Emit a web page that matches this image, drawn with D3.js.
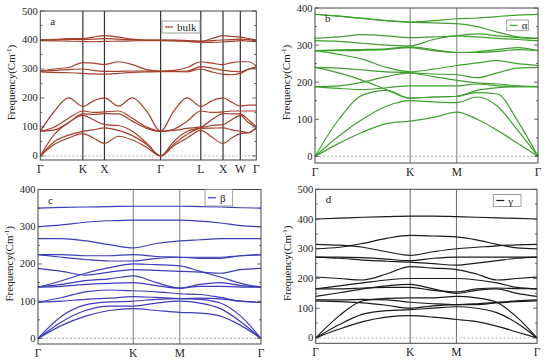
<!DOCTYPE html>
<html lang="en">
<head>
<meta charset="UTF-8">
<script src="https://d3js.org/d3.v7.min.js"></script>
<title>Phonon dispersion</title>
<style>
    body { margin: 0; background: #fff; }
    text { font-family: "Liberation Serif", "DejaVu Serif", serif; fill: #222; }
</style>
</head>
<body>
<svg id="chart" width="550" height="363"></svg>
<script>
    /*------------------- data -------------------*/
    // panel a : bulk
    const aLabels = ["Γ", "K", "X", "Γ", "L", "X", "W", "Γ"];
    const aTicks = [0, 0.197, 0.297, 0.557, 0.743, 0.846, 0.926, 1];
    const aGrid = [0, 0.066, 0.131, 0.197, 0.246, 0.297, 0.362, 0.426, 0.492, 0.557,
                   0.618, 0.68, 0.743, 0.794, 0.846, 0.886, 0.926, 0.963, 1];
    const aBands = [
        [0, 40, 62, 77, 62, 43, 68, 55, 30, 0, 35, 62, 88, 65, 43, 62, 77, 80, 95],
        [0, 50, 72, 85, 90, 97, 88, 70, 40, 0, 40, 75, 95, 96, 97, 90, 85, 80, 98],
        [0, 75, 115, 140, 125, 108, 105, 85, 45, 0, 50, 85, 97, 105, 108, 125, 140, 115, 100],
        [85, 90, 115, 145, 143, 146, 145, 120, 95, 85, 88, 95, 100, 125, 146, 145, 145, 125, 100],
        [85, 100, 130, 155, 150, 152, 155, 130, 100, 85, 92, 120, 155, 150, 152, 155, 155, 155, 155],
        [85, 155, 200, 171, 190, 200, 172, 200, 155, 85, 155, 200, 171, 190, 200, 185, 172, 175, 175],
        [290, 288, 287, 285, 283, 282, 285, 288, 290, 291, 291, 290, 300, 290, 282, 280, 285, 298, 305],
        [292, 295, 298, 300, 295, 292, 292, 293, 293, 292, 292, 293, 308, 303, 295, 292, 290, 300, 307],
        [293, 300, 305, 322, 320, 315, 325, 315, 298, 293, 295, 305, 325, 320, 315, 322, 325, 325, 310],
        [398, 397, 396, 395, 394, 395, 396, 397, 398, 398, 397, 395, 392, 392, 393, 395, 398, 396, 394],
        [400, 400, 402, 402, 403, 405, 403, 401, 400, 400, 399, 397, 395, 398, 400, 401, 403, 401, 398],
        [400, 402, 405, 405, 410, 415, 410, 403, 400, 400, 400, 398, 395, 405, 415, 412, 410, 405, 400]
    ];

    // panels b, c, d share the path Γ-K-M-Γ
    const hexLabels = ["Γ", "K", "M", "Γ"];
    const hexTicks = [0, 0.427, 0.636, 1];
    const hexGrid = [0, 0.107, 0.213, 0.32, 0.427, 0.531, 0.636, 0.727, 0.818, 0.909, 1];

    // panel b : alpha
    const bBands = [
        [0, 35, 65, 88, 95, 105, 119, 100, 70, 35, 0],
        [0, 55, 100, 135, 150, 147, 145, 160, 135, 70, 0],
        [0, 100, 165, 178, 157, 160, 162, 172, 168, 95, 0],
        [240, 225, 205, 180, 157, 160, 162, 178, 185, 188, 188],
        [188, 183, 180, 185, 190, 190, 190, 195, 190, 188, 188],
        [188, 190, 200, 215, 225, 222, 220, 212, 225, 238, 240],
        [240, 238, 233, 228, 225, 215, 205, 198, 195, 190, 188],
        [285, 275, 262, 240, 228, 235, 245, 252, 258, 250, 245],
        [285, 287, 288, 290, 295, 288, 280, 282, 288, 293, 285],
        [285, 285, 286, 288, 293, 285, 280, 280, 283, 288, 285],
        [312, 310, 305, 300, 298, 315, 325, 322, 318, 315, 312],
        [318, 322, 328, 325, 320, 322, 325, 330, 325, 320, 318],
        [383, 378, 372, 366, 362, 360, 358, 350, 335, 322, 318],
        [383, 378, 372, 366, 362, 366, 371, 373, 377, 381, 383]
    ];

    // panel c : beta
    const cBands = [
        [0, 35, 60, 75, 80, 75, 70, 68, 60, 35, 0],
        [0, 45, 75, 87, 87, 95, 100, 95, 80, 45, 0],
        [0, 60, 90, 98, 100, 105, 107, 105, 95, 60, 0],
        [97, 100, 105, 108, 112, 110, 107, 108, 106, 100, 97],
        [97, 110, 125, 130, 128, 125, 120, 118, 110, 100, 97],
        [138, 140, 145, 148, 150, 142, 135, 140, 140, 138, 138],
        [138, 145, 155, 160, 168, 150, 135, 145, 150, 142, 138],
        [138, 155, 175, 190, 200, 198, 195, 180, 165, 148, 138],
        [188, 180, 170, 178, 185, 183, 180, 178, 175, 185, 188],
        [225, 218, 212, 208, 208, 215, 218, 218, 218, 222, 225],
        [225, 225, 222, 222, 225, 220, 218, 215, 215, 222, 225],
        [268, 268, 262, 252, 243, 255, 262, 265, 268, 268, 268],
        [300, 305, 312, 316, 318, 318, 318, 315, 310, 303, 300],
        [350, 352, 353, 354, 355, 355, 355, 354, 353, 351, 350]
    ];

    // panel d : gamma
    const dBands = [
        [0, 30, 55, 70, 75, 70, 62, 55, 40, 20, 0],
        [0, 45, 80, 92, 95, 100, 105, 100, 85, 50, 0],
        [0, 75, 125, 133, 135, 135, 140, 135, 120, 70, 0],
        [125, 122, 118, 110, 100, 108, 112, 112, 118, 122, 125],
        [128, 128, 130, 128, 120, 115, 112, 115, 120, 125, 128],
        [140, 152, 165, 175, 180, 165, 150, 160, 165, 150, 140],
        [165, 165, 168, 170, 170, 160, 155, 165, 168, 166, 165],
        [165, 175, 185, 195, 200, 200, 200, 195, 185, 170, 165],
        [205, 200, 195, 215, 240, 235, 230, 215, 195, 200, 205],
        [272, 268, 262, 258, 255, 250, 245, 252, 260, 268, 272],
        [272, 272, 270, 265, 260, 268, 272, 272, 272, 272, 272],
        [315, 312, 305, 290, 278, 290, 300, 305, 310, 313, 315],
        [300, 305, 318, 335, 345, 343, 340, 330, 315, 303, 300],
        [400, 403, 406, 408, 410, 410, 408, 406, 404, 402, 400]
    ];

    /*------------------- panel setup -------------------*/
    const panels = [
        { tag: "a", x0: 40.3, x1: 256.3, y0: 11, y1: 160, ymin: -14, ymax: 500,
          labels: aLabels, ticks: aTicks, grid: aGrid, bands: aBands,
          color: "#a3402c", legend: "bulk", leg: [162, 21, 38, 12], vcol: "#333", vw: 1.2 },
        { tag: "b", x0: 315, x1: 538, y0: 8, y1: 163, ymin: -18, ymax: 400,
          labels: hexLabels, ticks: hexTicks, grid: hexGrid, bands: bBands,
          color: "#3f9f2f", legend: "α", leg: [506.7, 20, 21.6, 10.7], vcol: "#555", vw: 0.8 },
        { tag: "c", x0: 38, x1: 261, y0: 189.5, y1: 344, ymin: -15, ymax: 400,
          labels: hexLabels, ticks: hexTicks, grid: hexGrid, bands: cBands,
          color: "#3c3cb8", legend: "β", leg: [205, 189.5, 27.7, 16.5], vcol: "#555", vw: 0.8 },
        { tag: "d", x0: 315.7, x1: 537, y0: 189.3, y1: 343.3, ymin: -18, ymax: 500,
          labels: hexLabels, ticks: hexTicks, grid: hexGrid, bands: dBands,
          color: "#1a1a1a", legend: "γ", leg: [493.3, 194.5, 27.7, 12], vcol: "#444", vw: 0.8 }
    ];

    const svg = d3.select("#chart");

    panels.forEach(p => {
        const g = svg.append("g");
        const x = d3.scaleLinear().domain([0, 1]).range([p.x0, p.x1]);
        const y = d3.scaleLinear().domain([p.ymin, p.ymax]).range([p.y1, p.y0]);

        // vertical lines at the symmetry points
        g.selectAll(".sym")
            .data(p.ticks.slice(1, -1))
            .enter().append("line")
            .attr("x1", d => x(d)).attr("x2", d => x(d))
            .attr("y1", p.y0).attr("y2", p.y1)
            .attr("stroke", p.vcol).attr("stroke-width", p.vw);

        // zero line
        g.append("line")
            .attr("x1", p.x0).attr("x2", p.x1)
            .attr("y1", y(0)).attr("y2", y(0))
            .attr("stroke", "#999").attr("stroke-width", 0.8)
            .attr("stroke-dasharray", "2,2");

        // bands
        const line = d3.line()
            .x((d, i) => x(p.grid[i]))
            .y(d => y(d))
            .curve(d3.curveMonotoneX);
        g.selectAll(".band")
            .data(p.bands)
            .enter().append("path")
            .attr("d", line)
            .attr("fill", "none")
            .attr("stroke", p.color)
            .attr("stroke-width", 1.2);

        // frame
        g.append("rect")
            .attr("x", p.x0).attr("y", p.y0)
            .attr("width", p.x1 - p.x0).attr("height", p.y1 - p.y0)
            .attr("fill", "none").attr("stroke", "#444").attr("stroke-width", 1);

        // y ticks, inward on both sides
        const minor = d3.range(0, p.ymax + 1, 50);
        minor.forEach(v => {
            const len = v % 100 === 0 ? 4 : 2;
            g.append("line").attr("x1", p.x0).attr("x2", p.x0 + len)
                .attr("y1", y(v)).attr("y2", y(v)).attr("stroke", "#444").attr("stroke-width", 0.8);
            g.append("line").attr("x1", p.x1).attr("x2", p.x1 - len)
                .attr("y1", y(v)).attr("y2", y(v)).attr("stroke", "#444").attr("stroke-width", 0.8);
        });

        // y tick labels
        g.selectAll(".ylab")
            .data(d3.range(0, p.ymax + 1, 100))
            .enter().append("text")
            .attr("x", p.x0 - 2.5).attr("y", d => y(d))
            .attr("text-anchor", "end").attr("dominant-baseline", "central")
            .attr("font-size", 10.5)
            .text(d => d);

        // x tick labels
        g.selectAll(".xlab")
            .data(p.labels)
            .enter().append("text")
            .attr("x", (d, i) => x(p.ticks[i]))
            .attr("y", p.y1 + 13)
            .attr("text-anchor", "middle")
            .attr("font-size", 11.5)
            .text(d => d);

        // axis title
        const cy = (p.y0 + p.y1) / 2 - 3;
        const title = g.append("text")
            .attr("transform", `translate(${p.x0 - 25},${cy}) rotate(-90)`)
            .attr("text-anchor", "middle")
            .attr("font-size", 11);
        title.append("tspan").text("Frequency(Cm");
        title.append("tspan").attr("font-size", 7).attr("dy", -4).text("-1");
        title.append("tspan").attr("dy", 4).text(")");

        // panel letter
        g.append("text")
            .attr("x", p.x0 + 10).attr("y", p.y0 + 14)
            .attr("font-size", 11).text(p.tag);

        // legend
        const [lx, ly, lw, lh] = p.leg;
        g.append("rect").attr("x", lx).attr("y", ly).attr("width", lw).attr("height", lh)
            .attr("fill", "#fff").attr("stroke", "#888").attr("stroke-width", 0.8);
        g.append("line").attr("x1", lx + 3).attr("x2", lx + 11)
            .attr("y1", ly + lh / 2).attr("y2", ly + lh / 2)
            .attr("stroke", p.color).attr("stroke-width", 1.2);
        g.append("text").attr("x", lx + 15).attr("y", ly + lh / 2)
            .attr("dominant-baseline", "central")
            .attr("font-size", 11).text(p.legend);
    });
</script>
</body>
</html>
